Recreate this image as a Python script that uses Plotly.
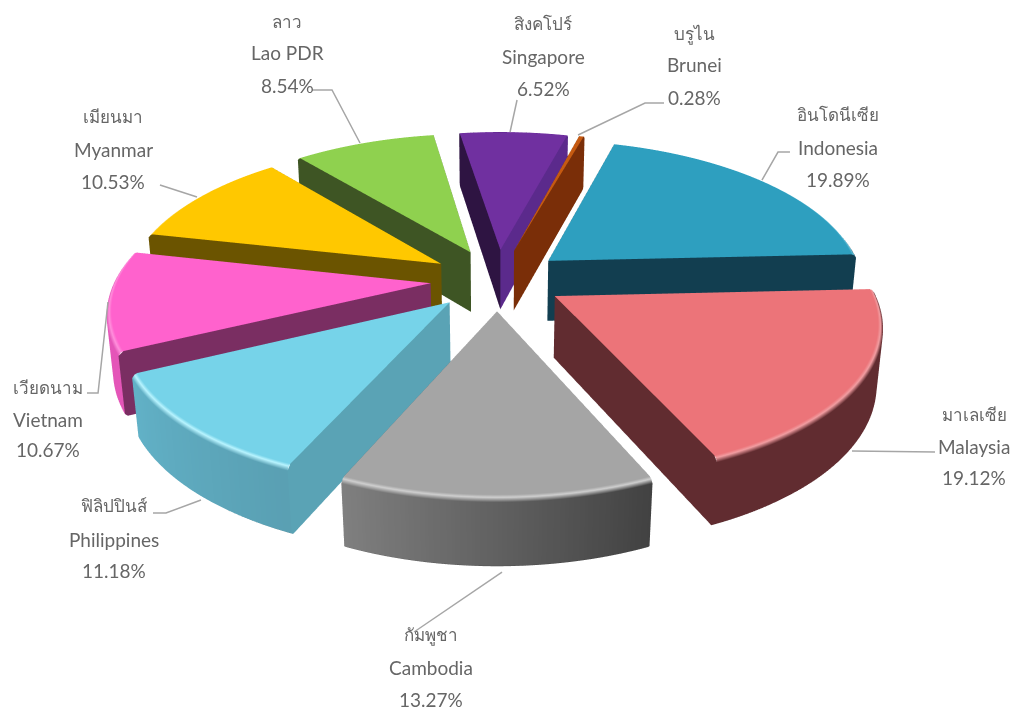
import numpy as np
import plotly.graph_objects as go

thai = ["อินโดนีเซีย", "มาเลเซีย", "กัมพูชา", "ฟิลิปปินส์", "เวียดนาม", "เมียนมา", "ลาว", "สิงคโปร์", "บรูไน"]
names = ["Indonesia", "Malaysia", "Cambodia", "Philippines", "Vietnam", "Myanmar", "Lao PDR", "Singapore", "Brunei"]
values = [19.89, 19.12, 13.27, 11.18, 10.67, 10.53, 8.54, 6.52, 0.28]
top_colors = ["#2E9FBF", "#EC7479", "#A5A5A5", "#76D3E9", "#FF62CD", "#FFC800", "#8FD14F", "#7030A0", "#C55A11"]
start_wall = ["#123E50", "#612C30", "#555555", "#5AA3B5", "#7A2E62", "#6B5400", "#3E5524", "#2E1442", "#7A2E08"]
end_wall = ["#123E50", "#612C30", "#555555", "#5AA3B5", "#7A2E62", "#6B5400", "#3E5524", "#5B2A8C", "#7A2E08"]
outer_a = ["#123E50", "#612C30", "#424242", "#5AA0B3", "#E455B8", "#6B5400", "#3E5524", "#2E1442", "#7A2E08"]
outer_b = ["#123E50", "#612C30", "#808080", "#62B2C8", "#E455B8", "#6B5400", "#3E5524", "#5B2A8C", "#7A2E08"]
rim_colors = ["#5FBCD6", "#F29DA1", "#CFCFCF", "#B8F4FF", "#FF8FDC", "#FFDC60", "#AEE07A", "#8C50BC", "#D87A38"]

label_px = [(838, 115, 147, 179), (974, 414, 446, 478), (431, 635, 667, 699), (114, 505, 539, 570),
            (48, 387, 419, 449), (113, 117, 149, 181), (287, 22, 53, 85), (543, 24, 57, 88), (694, 34, 65, 97)]
leaders = [[(790, 152), (778, 152), (762, 180)], [(935, 452), (852, 451)], [(414, 632), (502, 572)],
           [(153, 513), (166, 513), (201, 500)], [(87, 393), (98, 393), (108, 302)],
           [(160, 185), (197, 197)], [(312, 90), (332, 90), (360, 143)], [(517, 100), (510, 132)],
           [(664, 103), (645, 103), (578, 135)]]

START = 15.7
PULL = 0.21
H = 0.22
EDGE = 0.008
ELEV = np.radians(27.5)
DIST = 5.7
KPX = 320
CX, CY = 497, 279
W, Hp = 1015, 709
SCENE_SCALE = 2.84


def rgb(c):
    return np.array([int(c[1:3], 16), int(c[3:5], 16), int(c[5:7], 16)], float)


def css(a):
    return "rgb(%d,%d,%d)" % tuple(np.clip(a, 0, 255))


def project(x, y, z):
    u, v, w = x, y * np.sin(ELEV) + z * np.cos(ELEV), y * np.cos(ELEV) - z * np.sin(ELEV)
    s = DIST / (DIST + w)
    return CX + KPX * u * s, (Hp - CY) + KPX * v * s, s


class Builder:
    def __init__(self):
        self.x, self.y, self.z, self.c, self.i, self.j, self.k = [], [], [], [], [], [], []

    def v(self, x, y, z, col):
        px, py, s = project(x, y, z)
        self.x.append(px); self.y.append(py); self.z.append(s); self.c.append(css(col))
        return len(self.x) - 1

    def tri(self, a, b, c):
        self.i.append(a); self.j.append(b); self.k.append(c)

    def quad(self, a, b, c, d):
        self.tri(a, b, c); self.tri(a, c, d)


fig = go.Figure()
a0 = START
for n_, v in enumerate(values):
    a1 = a0 + v * 3.6
    mid = np.radians((a0 + a1) / 2)
    ox, oy = PULL * np.sin(mid), PULL * np.cos(mid)
    th = np.radians(np.linspace(a0, a1, max(3, int(v * 3.6) + 2)))
    b = Builder()
    top, rim = rgb(top_colors[n_]), rgb(rim_colors[n_])
    oa, ob = rgb(outer_a[n_]), rgb(outer_b[n_])
    pt = lambda r, t: (ox + r * np.sin(t), oy + r * np.cos(t))
    # top face
    c0 = b.v(ox, oy, 0, top)
    prev = None
    for t in th:
        cur = b.v(*pt(1 - EDGE * 2, t), 0, top)
        if prev is not None:
            b.tri(c0, prev, cur)
        prev = cur
    # rim and outer wall: rows of (radius, z, colour) blended along the arc
    for idx in range(len(th) - 1):
        t1, t2 = th[idx], th[idx + 1]
        f1, f2 = idx / (len(th) - 1), (idx + 1) / (len(th) - 1)
        w1, w2 = oa + (ob - oa) * f1, oa + (ob - oa) * f2
        rows = [(1 - EDGE * 2, 0, top, top), (1 - EDGE, -EDGE * 0.4, rim, rim), (1, -EDGE * 1.6, w1, w2),
                (1, -H + EDGE, w1, w2), (1 - EDGE, -H, w1 * 0.7, w2 * 0.7)]
        for (r_a, z_a, c_a1, c_a2), (r_b, z_b, c_b1, c_b2) in zip(rows[:-1], rows[1:]):
            b.quad(b.v(*pt(r_a, t1), z_a, c_a1), b.v(*pt(r_b, t1), z_b, c_b1),
                   b.v(*pt(r_b, t2), z_b, c_b2), b.v(*pt(r_a, t2), z_a, c_a2))
    # radial walls, following the rim profile at the outer end
    for t, colr in ((th[0], start_wall[n_]), (th[-1], end_wall[n_])):
        cw = rgb(colr)
        p0 = b.v(ox, oy, 0, cw)
        p1 = b.v(ox, oy, -H, cw)
        p2 = b.v(*pt(1 - EDGE, t), -H, cw)
        p3 = b.v(*pt(1, t), -H + EDGE, cw)
        p4 = b.v(*pt(1, t), -EDGE * 1.6, cw)
        p5 = b.v(*pt(1 - EDGE * 2, t), 0, cw)
        for q, r_ in ((p1, p2), (p2, p3), (p3, p4), (p4, p5)):
            b.tri(p0, q, r_)
    fig.add_trace(go.Mesh3d(x=b.x, y=b.y, z=b.z, i=b.i, j=b.j, k=b.k, vertexcolor=b.c, flatshading=False,
                            lighting=dict(ambient=1, diffuse=0, specular=0, roughness=1, fresnel=0),
                            hoverinfo="skip", showscale=False))
    a0 = a1

ax = dict(visible=False, showgrid=False, zeroline=False, showbackground=False, showticklabels=False, title="")
fig.update_layout(
    width=W, height=Hp, margin=dict(l=0, r=0, t=0, b=0), paper_bgcolor="white", showlegend=False,
    font=dict(family="Lato, Noto Sans, sans-serif", size=19, color="#666666"),
    scene=dict(
        domain=dict(x=[0, 1], y=[0, 1]),
        xaxis=dict(ax, range=[0, W]), yaxis=dict(ax, range=[0, Hp]), zaxis=dict(ax, range=[0.5, 1.5]),
        aspectmode="manual",
        aspectratio=dict(x=SCENE_SCALE, y=SCENE_SCALE * Hp / W, z=0.3),
        camera=dict(eye=dict(x=0, y=0, z=1.5), center=dict(x=0, y=0, z=0), up=dict(x=0, y=1, z=0),
                    projection=dict(type="orthographic")),
        bgcolor="white",
    ),
)
for i, (xc, y1, y2, y3) in enumerate(label_px):
    for txt, y, sz in [(thai[i], y1, 17), (names[i], y2, 19), ("%.2f%%" % values[i], y3, 19)]:
        fig.add_annotation(x=xc / W, y=1 - y / Hp, xref="paper", yref="paper", text=txt, showarrow=False,
                           xanchor="center", yanchor="middle", font=dict(size=sz, color="#666666"))
for pts in leaders:
    d = "M" + " L".join("%.4f,%.4f" % (x / W, 1 - y / Hp) for x, y in pts)
    fig.add_shape(type="path", path=d, xref="paper", yref="paper", line=dict(color="#A6A6A6", width=1.5))
fig.write_html("out.html", config=dict(displayModeBar=False),
               post_script="document.body.style.margin='0';document.documentElement.style.overflow='hidden';")
